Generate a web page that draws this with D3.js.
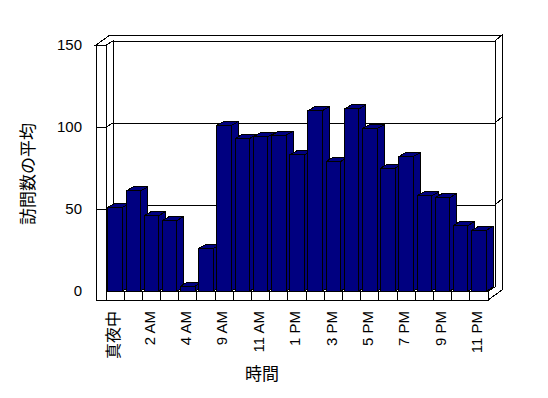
<!DOCTYPE html>
<html>
<head>
<meta charset="utf-8">
<script src="https://cdn.jsdelivr.net/npm/d3@7"></script>
<style>
  body { margin: 0; background: #fff; }
  text { fill: #000; }
  .num { font-family: "Liberation Sans", Arial, sans-serif; font-size: 15px; }
  .jp { font-family: "Noto Sans CJK JP", sans-serif; font-size: 16px; }
  path, rect, line { shape-rendering: crispEdges; }
</style>
</head>
<body>
<svg id="chart"></svg>
<script>
// categories (hours) and averaged visit counts
const hours = ['真夜中', '1 AM', '2 AM', '3 AM', '4 AM', '8 AM', '9 AM', '10 AM', '11 AM', '12 PM', '1 PM',
  '2 PM', '3 PM', '4 PM', '5 PM', '6 PM', '7 PM', '8 PM', '9 PM', '10 PM', '11 PM'];
const visits = [51, 61, 46, 43, 3, 26, 101, 93, 94, 95, 83, 110, 79, 111, 99, 75, 82, 58, 57, 40, 37];
const yTicks = [0, 50, 100, 150];

const W = 548, H = 398;
const x0 = 106, x1 = 488;     // floor front edge
const DX = 7, DY = -4;        // depth of the plot (bars run full depth)
const TX = 7, TY = -6;        // back wall thickness
const WALL = 10;              // left wall thickness
const FLOOR = 9;              // floor thickness

const svg = d3.select('#chart').attr('width', W).attr('height', H);
svg.append('rect').attr('width', W).attr('height', H).attr('fill', '#fff');

const x = d3.scaleBand().domain(hours).range([x0, x1]).paddingInner(0.2).paddingOuter(0.1);
const y = d3.scaleLinear().domain([0, 150]).range([291, 45]);

const yb = y(0), yt = y(150);
const line = pts => 'M' + pts.map(p => p.join(',')).join('L');
const poly = pts => line(pts) + 'Z';

const frame = svg.append('g').attr('fill', '#fff').attr('stroke', '#000').attr('stroke-width', 1);

// back wall inner face
frame.append('rect')
  .attr('x', x0 + DX).attr('y', yt + DY)
  .attr('width', x1 - x0).attr('height', yb - yt);

// top of left + back wall
frame.append('path').attr('d', poly([
  [x0 - WALL, yt], [x0, yt], [x0 + DX, yt + DY], [x1 + DX, yt + DY],
  [x1 + DX + TX, yt + DY + TY], [x0 - WALL + DX + TX, yt + DY + TY]
]));

// right end of back wall and floor
frame.append('path').attr('d', poly([
  [x1, yb], [x1 + DX, yb + DY], [x1 + DX, yt + DY], [x1 + DX + TX, yt + DY + TY],
  [x1 + DX + TX, yb + FLOOR + DY + TY], [x1, yb + FLOOR]
]));

// left wall inner face
frame.append('path').attr('d', poly([
  [x0, yt], [x0 + DX, yt + DY], [x0 + DX, yb + DY], [x0, yb]
]));

// floor top
frame.append('path').attr('d', poly([
  [x0, yb], [x1, yb], [x1 + DX, yb + DY], [x0 + DX, yb + DY]
]));

// left wall front face
frame.append('rect')
  .attr('x', x0 - WALL).attr('y', yt)
  .attr('width', WALL).attr('height', yb + FLOOR - yt);

// floor front face
frame.append('rect')
  .attr('x', x0).attr('y', yb)
  .attr('width', x1 - x0).attr('height', FLOOR);

// gridlines: front tick, left wall, back wall, right end
const grid = svg.append('g').attr('fill', 'none').attr('stroke', '#000');
yTicks.filter(t => t > 0 && t < 150).forEach(t => {
  const v = y(t);
  grid.append('path').attr('d', line([
    [x0 - WALL, v], [x0, v], [x0 + DX, v + DY], [x1 + DX, v + DY], [x1 + DX + TX, v + DY + TY]
  ]));
});

// category dividers on floor front
const step = x.step();
d3.range(1, hours.length).forEach(i => {
  const cx = x0 + i * step;
  grid.append('line').attr('x1', cx).attr('x2', cx).attr('y1', yb).attr('y2', yb + FLOOR);
});

// bars, drawn left to right so the next front face covers the previous side
const bars = svg.append('g').attr('fill', '#000080').attr('stroke', '#000').attr('stroke-linejoin', 'round');
hours.forEach((h, i) => {
  const bx = x(h), bw = x.bandwidth(), top = y(visits[i]);
  const g = bars.append('g');
  g.append('path').attr('d', poly([
    [bx + bw, top], [bx + bw + DX, top + DY], [bx + bw + DX, yb + DY], [bx + bw, yb]
  ]));
  g.append('path').attr('d', poly([
    [bx, top], [bx + DX, top + DY], [bx + bw + DX, top + DY], [bx + bw, top]
  ]));
  g.append('rect').attr('x', bx).attr('y', top).attr('width', bw).attr('height', yb - top);
});

// y tick labels
svg.append('g').selectAll('text').data(yTicks).join('text')
  .attr('class', 'num')
  .attr('x', 82).attr('y', d => y(d))
  .attr('dy', '0.35em')
  .attr('text-anchor', 'end')
  .text(d => d);

// x labels, every other category
svg.append('g').selectAll('text').data(hours.filter((d, i) => i % 2 === 0)).join('text')
  .attr('class', (d, i) => i === 0 ? 'jp' : 'num')
  .attr('transform', d => `translate(${x(d) + x.bandwidth() / 2 - 2},311) rotate(-90)`)
  .attr('dy', '0.35em')
  .attr('text-anchor', 'end')
  .text(d => d);

// axis titles
svg.append('text').attr('class', 'jp')
  .attr('transform', 'translate(28,174) rotate(-90)')
  .attr('dy', '0.35em')
  .attr('text-anchor', 'middle')
  .style('font-size', '17px')
  .text('訪問数の平均');

svg.append('text').attr('class', 'jp')
  .attr('x', 262).attr('y', 380)
  .attr('text-anchor', 'middle')
  .style('font-size', '17px')
  .text('時間');
</script>
</body>
</html>
